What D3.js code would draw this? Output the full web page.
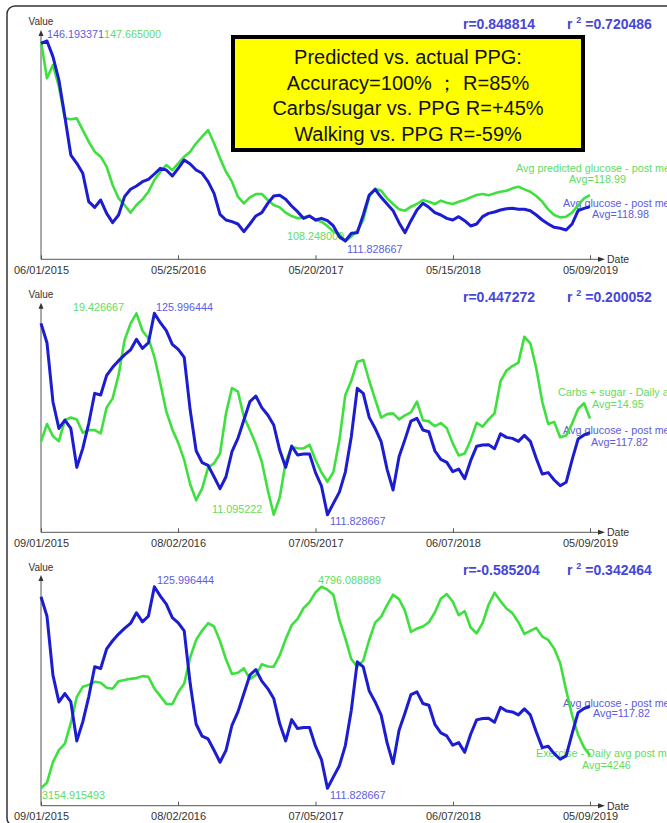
<!DOCTYPE html>
<html>
<head>
<meta charset="utf-8">
<script src="https://cdn.jsdelivr.net/npm/d3@7"></script>
<style>
  body { margin: 0; background: #fff; }
  svg { display: block; font-family: "Liberation Sans", Arial, sans-serif; }
</style>
</head>
<body>
<div id="chart"></div>
<script>
// ============ Data ==========================================
var panel1Ticks = ["06/01/2015", "05/25/2016", "05/20/2017", "05/15/2018", "05/09/2019"];
var panel23Ticks = ["09/01/2015", "08/02/2016", "07/05/2017", "06/07/2018", "05/09/2019"];

// panel 1 : avg glucose post meal (blue) vs predicted (green)
var actualPPG1 = [145.79,146.19,143.50,139.49,133.19,126.60,125.17,123.46,118.59,117.61,
  118.87,116.58,114.98,116.30,119.45,120.71,121.28,122.02,122.42,123.34,
  124.31,124.03,123.00,124.31,125.75,125.06,124.03,123.46,122.02,120.02,
  116.41,115.44,115.15,114.75,113.43,114.75,116.13,116.70,118.30,119.56,
  119.68,118.99,117.84,116.87,115.72,116.13,115.44,115.72,115.32,114.41,
  112.57,111.83,113.15,113.26,116.30,119.73,120.71,119.33,118.19,117.04,
  114.98,113.26,115.32,117.16,118.30,117.61,116.70,116.30,115.72,115.44,
  116.01,115.32,114.41,114.75,116.01,116.58,116.81,117.16,117.38,117.44,
  117.27,117.27,117.04,116.30,115.44,114.75,114.18,114.01,113.72,114.75,
  117.04,117.44,117.73];
var predictedPPG = [147.67,140.31,142.94,138.67,132.42,132.23,132.42,130.12,127.82,125.85,
  124.87,122.90,119.29,116.66,115.34,113.83,115.34,116.46,117.97,120.27,
  121.91,123.23,122.24,123.55,124.87,125.85,127.50,128.81,130.12,127.50,
  124.54,121.91,119.94,116.98,115.67,116.85,117.51,117.51,116.33,115.34,
  114.88,113.83,113.17,112.72,112.91,113.17,112.39,112.06,111.20,110.09,
  109.63,108.25,109.10,110.28,112.39,116.98,118.56,118.17,116.66,115.54,
  114.49,114.23,115.01,115.54,116.33,116.00,115.54,116.20,115.80,115.54,
  116.00,116.33,116.85,117.31,117.51,117.25,117.64,117.97,118.17,118.63,
  118.96,118.43,117.97,117.12,116.00,114.49,113.37,112.91,113.04,113.83,
  115.34,116.66,117.31];

// panels 2 and 3 : avg glucose post meal (blue)
var actualPPG2 = [125.29,123.93,119.78,117.90,118.49,117.90,115.16,116.50,118.26,120.37,
  120.25,121.63,122.20,122.67,123.07,123.42,124.17,123.53,123.93,126.00,
  125.34,124.78,123.82,123.46,122.90,119.19,116.33,115.49,115.30,114.50,
  113.66,114.50,116.26,117.20,118.49,119.78,120.18,119.36,118.84,118.14,
  116.38,115.16,116.66,116.03,116.10,116.10,114.79,113.85,111.83,112.63,
  113.42,114.83,117.32,120.72,120.37,118.68,117.90,116.97,115.02,113.57,
  115.91,117.13,118.42,118.61,117.79,117.67,116.33,115.72,115.51,114.86,
  115.04,114.36,115.63,116.64,116.73,116.76,116.47,117.53,117.27,117.20,
  116.99,117.41,116.99,115.79,114.69,114.79,114.27,113.87,114.11,115.68,
  117.15,117.44,117.60];

// panel 2 : carbs + sugar daily avg (green)
var carbsSugar = [14.12,14.85,14.35,14.14,15.01,15.12,15.04,14.49,14.60,14.60,
  14.46,15.54,15.91,16.87,18.32,19.00,19.43,18.71,18.39,17.63,
  16.53,15.37,14.63,14.07,13.36,12.36,11.70,12.18,13.05,13.22,
  13.63,15.29,16.34,16.19,15.15,14.60,14.02,13.29,12.12,11.10,
  11.81,13.27,13.90,13.85,13.84,13.99,13.36,12.85,12.46,12.87,
  14.18,16.05,16.64,17.43,17.50,16.64,15.87,15.12,15.26,15.29,
  15.04,15.21,15.33,15.78,15.01,14.96,14.76,14.89,14.68,14.05,
  13.55,13.63,14.18,14.90,14.74,15.04,15.29,16.61,17.06,17.25,
  17.39,18.46,18.19,17.15,15.77,14.85,14.94,14.30,14.38,14.87,
  15.47,15.71,15.08];

// panel 3 : exercise daily avg post meal (green)
var exerciseSteps = [3154.92,3201,3368,3466,3518,3687,3899,3981,3997,4022,
  4014,3973,3965,4027,4036,4046,4052,4068,4063,3967,
  3905,3842,3839,3937,4008,4221,4363,4439,4499,4472,
  4354,4205,4085,4095,4131,4046,4076,4164,4147,4145,
  4237,4368,4483,4534,4622,4671,4750,4796.09,4772,4731,
  4526,4376,4207,4145,4194,4363,4504,4553,4646,4731,
  4695,4600,4428,4455,4472,4507,4586,4698,4736,4676,
  4564,4597,4464,4417,4499,4649,4747,4679,4619,4581,
  4507,4412,4436,4461,4390,4363,4292,4175,3954,3749,
  3591,3488,3422];

var boxLines = ["Predicted vs. actual PPG:", "Accuracy=100% \uFF1B R=85%", "Carbs/sugar vs. PPG R=+45%", "Walking vs. PPG R=-59%"];

//============ Set up chart =====================
var svgWidth = 667;
var svgHeight = 823;
var blue = "#1c1cd0", blueText = "#5c5ce0", rBlue = "#4646d8";
var green = "#3ee03e", greenText = "#62dc62";
var parseDate = d3.timeParse("%m/%d/%Y");
var fmtDate = d3.timeFormat("%m/%d/%Y");

var svg = d3.select("#chart").append("svg")
  .attr("width", svgWidth)
  .attr("height", svgHeight);

// soft edge, the source is a blurry screenshot
var defs = svg.append("defs");
defs.append("filter").attr("id", "soft")
  .append("feGaussianBlur").attr("stdDeviation", 0.55);

// outer rounded frame
svg.append("rect")
  .attr("x", 7).attr("y", 6)
  .attr("width", 690).attr("height", 820)
  .attr("rx", 8)
  .attr("fill", "none")
  .attr("stroke", "#333")
  .attr("stroke-width", 1.5);

var panels = [
  { ticks: panel1Ticks, green: predictedPPG, blue: actualPPG1,
    top: 41, bottom: 241, axisY: 259.3, arrowTop: 30, valueY: 25, rY: 29,
    r: "r=0.848814", r2: "=0.720486",
    labels: [
      ["146.193371", 47, 37.5, blueText], ["147.665000", 104, 37.5, greenText],
      ["108.248000", 287, 240, greenText], ["111.828667", 347, 252.5, blueText],
      ["Avg predicted glucose - post meal", 516, 171.5, greenText], ["Avg=118.99", 569, 183, greenText],
      ["Avg glucose - post meal", 563, 206.5, blueText], ["Avg=118.98", 592, 218, blueText]
    ] },
  { ticks: panel23Ticks, green: carbsSugar, blue: actualPPG2,
    top: 313.3, bottom: 514.7, axisY: 532.3, arrowTop: 302.7, valueY: 297.5, rY: 301.5,
    r: "r=0.447272", r2: "=0.200052",
    labels: [
      ["19.426667", 73, 310.5, greenText], ["125.996444", 156, 310.5, blueText],
      ["11.095222", 212, 513, greenText], ["111.828667", 330, 524.5, blueText],
      ["Carbs + sugar - Daily avg", 558, 396, greenText], ["Avg=14.95", 592, 408, greenText],
      ["Avg glucose - post meal", 563, 434, blueText], ["Avg=117.82", 591, 445.5, blueText]
    ] },
  { ticks: panel23Ticks, green: exerciseSteps, blue: actualPPG2,
    top: 586.7, bottom: 788.3, axisY: 805.7, arrowTop: 575, valueY: 570.5, rY: 575,
    r: "r=-0.585204", r2: "=0.342464",
    labels: [
      ["125.996444", 157, 584, blueText], ["4796.088889", 318, 584, greenText],
      ["3154.915493", 42, 799, greenText], ["111.828667", 330, 799, blueText],
      ["Avg glucose - post meal", 563, 706.5, blueText], ["Avg=117.82", 593, 717, blueText],
      ["Exercise - Daily avg post meal", 536, 757, greenText], ["Avg=4246", 582, 769, greenText]
    ] }
];

var left = 41, right = 590;

panels.forEach(function(p) {
  var tickDates = p.ticks.map(parseDate);
  var start = tickDates[0], end = tickDates[tickDates.length - 1];
  var n = p.blue.length;
  var dates = d3.range(n).map(function(i) {
    return new Date(+start + i * (end - start) / (n - 1));
  });

  var xScale = d3.scaleTime().domain([start, end]).range([left, right]);
  var yBlue = d3.scaleLinear().domain(d3.extent(p.blue)).range([p.bottom, p.top]);
  var yGreen = d3.scaleLinear().domain(d3.extent(p.green)).range([p.bottom, p.top]);

  var g = svg.append("g");

  // x axis
  var bottomAxis = d3.axisBottom(xScale)
    .tickValues(tickDates)
    .tickFormat(fmtDate)
    .tickSizeInner(-4)
    .tickSizeOuter(0)
    .tickPadding(7);
  var xAxis = g.append("g")
    .attr("transform", `translate(0, ${p.axisY})`)
    .call(bottomAxis);
  xAxis.select(".domain").remove();
  xAxis.selectAll("line").attr("stroke", "#555");
  xAxis.selectAll("text").attr("fill", "#333").style("font-size", "11px").style("font-family", "Liberation Sans, Arial, sans-serif");

  g.append("line")
    .attr("x1", left).attr("x2", 600)
    .attr("y1", p.axisY).attr("y2", p.axisY)
    .attr("stroke", "#555").attr("stroke-width", 1);
  g.append("path")
    .attr("d", `M605,${p.axisY} L598,${p.axisY - 2.5} L598,${p.axisY + 2.5} Z`)
    .attr("fill", "#333");
  g.append("text")
    .attr("x", 607).attr("y", p.axisY + 4)
    .attr("fill", "#333").style("font-size", "10.5px")
    .text("Date");

  // y axis
  g.append("line")
    .attr("x1", left).attr("x2", left)
    .attr("y1", p.axisY).attr("y2", p.arrowTop + 4)
    .attr("stroke", "#555").attr("stroke-width", 1);
  g.append("path")
    .attr("d", `M${left},${p.arrowTop} L${left - 2.5},${p.arrowTop + 6} L${left + 2.5},${p.arrowTop + 6} Z`)
    .attr("fill", "#333");
  g.append("text")
    .attr("x", left).attr("y", p.valueY)
    .attr("text-anchor", "middle")
    .attr("fill", "#333").style("font-size", "10px")
    .text("Value");

  // r and r squared
  g.append("text")
    .attr("x", 463).attr("y", p.rY)
    .attr("fill", rBlue).style("font-size", "14px").style("font-weight", "bold")
    .text(p.r);
  var r2 = g.append("text")
    .attr("x", 567).attr("y", p.rY)
    .attr("fill", rBlue).style("font-size", "14px").style("font-weight", "bold");
  r2.append("tspan").text("r ");
  r2.append("tspan").attr("dy", -6).style("font-size", "9px").text("2");
  r2.append("tspan").attr("dy", 6).text(" " + p.r2);

  // min / max / legend labels
  g.selectAll(".lbl")
    .data(p.labels)
    .enter()
    .append("text")
    .attr("x", d => d[1])
    .attr("y", d => d[2])
    .attr("fill", d => d[3])
    .style("font-size", "10.8px")
    .text(d => d[0]);

  // lines
  var lineGreen = d3.line()
    .x((d, i) => xScale(dates[i]))
    .y(d => yGreen(d));
  var lineBlue = d3.line()
    .x((d, i) => xScale(dates[i]))
    .y(d => yBlue(d));

  g.append("path")
    .datum(p.green)
    .attr("d", lineGreen)
    .attr("fill", "none")
    .attr("stroke", green)
    .attr("stroke-width", 2.6)
    .attr("stroke-linejoin", "round")
    .attr("filter", "url(#soft)");

  g.append("path")
    .datum(p.blue)
    .attr("d", lineBlue)
    .attr("fill", "none")
    .attr("stroke", blue)
    .attr("stroke-width", 3)
    .attr("stroke-linejoin", "round")
    .attr("filter", "url(#soft)");
});

// ============ yellow annotation box =====================
svg.append("rect")
  .attr("x", 233).attr("y", 37)
  .attr("width", 350).attr("height", 113)
  .attr("fill", "#ffff00")
  .attr("stroke", "#000")
  .attr("stroke-width", 4);

svg.append("g").selectAll("text")
  .data(boxLines)
  .enter()
  .append("text")
  .attr("x", 408)
  .attr("y", (d, i) => 64 + i * 25.5)
  .attr("text-anchor", "middle")
  .attr("fill", "#111")
  .style("font-size", "20px")
  .text(d => d);
</script>
</body>
</html>
